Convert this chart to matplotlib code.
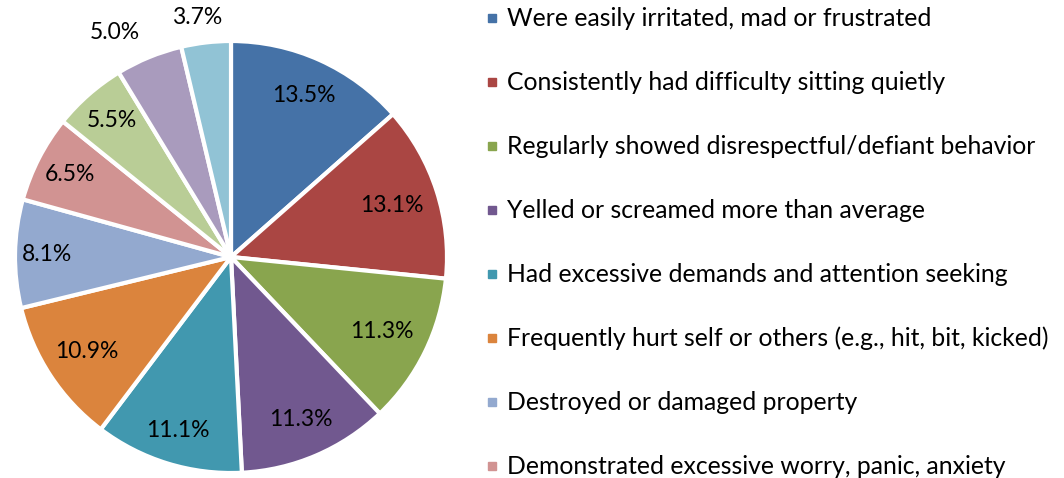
'''
Pie chart of reported behaviours, with a hand-placed legend
'''

import numpy as np
import matplotlib
matplotlib.use("Agg")
import matplotlib.pyplot as plt
from matplotlib.patches import Rectangle

behaviours = ["Were easily irritated, mad or frustrated",
              "Consistently had difficulty sitting quietly",
              "Regularly showed disrespectful/defiant behavior",
              "Yelled or screamed more than average",
              "Had excessive demands and attention seeking",
              "Frequently hurt self or others (e.g., hit, bit, kicked)",
              "Destroyed or damaged property",
              "Demonstrated excessive worry, panic, anxiety",
              "Other 1", "Other 2", "Other 3"]
shares = [13.5, 13.1, 11.3, 11.3, 11.1, 10.9, 8.1, 6.5, 5.5, 5.0, 3.7]
colors = ["#4572A7", "#AA4643", "#89A54E", "#71588F", "#4198AF", "#DB843D",
          "#93A9CF", "#D19392", "#B9CD96", "#A99BBD", "#91C3D5"]
n_legend = 8  # the legend box only shows the first eight

plt.rcParams['font.family'] = ['Lato', 'DejaVu Sans']

W, H = 1064, 478
fig = plt.figure(figsize=(W / 100, H / 100), dpi=100, facecolor='white')

# pie placement in pixels
cx, cy, R = 231, 257, 216
ax = fig.add_axes([(cx - R) / W, (H - cy - R) / H, 2 * R / W, 2 * R / H])

wedges, _ = ax.pie(shares, colors=colors, startangle=90, counterclock=False,
                   radius=1.0,
                   wedgeprops=dict(edgecolor='white', linewidth=3))
ax.set_xlim(-1, 1)
ax.set_ylim(-1, 1)
ax.set_aspect('equal')
ax.axis('off')

# label distances (fraction of radius) and angle nudges (deg);
# the last two sit outside the pie
label_r = [0.82, 0.78, 0.78, 0.82, 0.84, 0.80, 0.85, 0.84, 0.84, 1.17, 1.12]
label_da = [0, 0, 0, 0, 0, 0, 0, 0, 0, 5, 1.5]
for w, val, r, da in zip(wedges, shares, label_r, label_da):
    ang = np.deg2rad((w.theta1 + w.theta2) / 2 + da)
    ax.text(r * np.cos(ang), r * np.sin(ang), "{:.1f}%".format(val),
            ha='center', va='center', fontsize=16.5, color='black',
            clip_on=False)

# legend, drawn by hand
lx, ly0, dy = 492, 18, 64
for i in range(n_legend):
    y = ly0 + i * dy
    fig.patches.append(Rectangle(((lx - 4) / W, (H - y - 4) / H), 8 / W, 8 / H,
                                 transform=fig.transFigure, color=colors[i],
                                 zorder=5))
    fig.text((lx + 15) / W, (H - y) / H, behaviours[i], ha='left',
             va='center', fontsize=17.8, color='black')

fig.savefig("out.png", dpi=100)
